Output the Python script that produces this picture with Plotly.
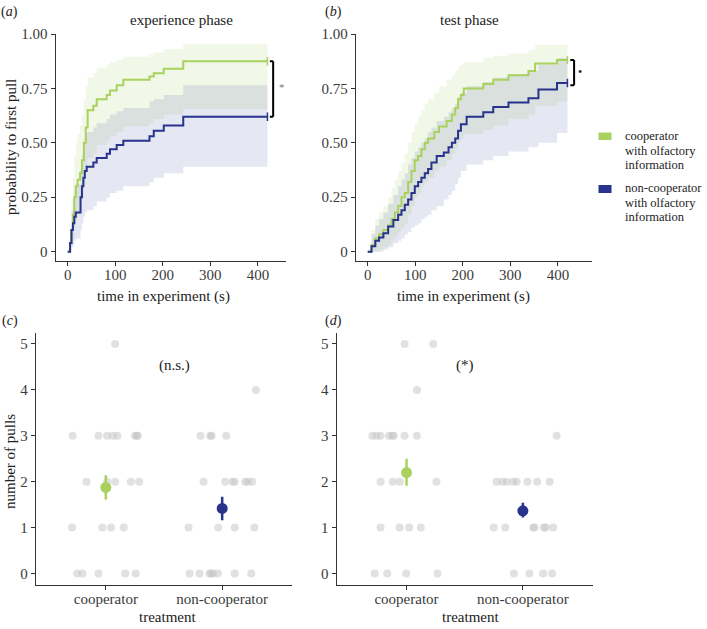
import plotly.graph_objects as go

# ---------------- data ----------------
# (a) experience phase - Kaplan-Meier style step curves
exp_coop_t = [0, 5, 8, 11, 14, 17, 21, 26, 30, 34, 38, 42, 54, 61, 82, 89, 103, 117, 172, 181, 202, 243, 420]
exp_coop_p = [0, 0.04, 0.10, 0.17, 0.25, 0.30, 0.33, 0.36, 0.42, 0.50, 0.57, 0.65, 0.67, 0.70, 0.72, 0.74, 0.765, 0.79, 0.805, 0.82, 0.84, 0.875, 0.875]
exp_coop_hi = [0, 0.12, 0.24, 0.34, 0.44, 0.50, 0.54, 0.58, 0.63, 0.70, 0.76, 0.80, 0.82, 0.845, 0.86, 0.87, 0.88, 0.895, 0.905, 0.915, 0.93, 0.955, 0.955]
exp_coop_lo = [0, 0, 0.02, 0.06, 0.11, 0.15, 0.17, 0.20, 0.25, 0.31, 0.37, 0.43, 0.45, 0.49, 0.51, 0.53, 0.55, 0.575, 0.59, 0.61, 0.63, 0.655, 0.655]

exp_non_t = [0, 5, 8, 11, 14, 17, 27, 30, 33, 36, 40, 54, 61, 82, 89, 103, 117, 172, 181, 202, 243, 420]
exp_non_p = [0, 0.04, 0.10, 0.13, 0.16, 0.18, 0.25, 0.30, 0.34, 0.37, 0.39, 0.41, 0.43, 0.45, 0.47, 0.49, 0.51, 0.53, 0.555, 0.58, 0.62, 0.62]
exp_non_hi = [0, 0.10, 0.19, 0.24, 0.28, 0.31, 0.38, 0.44, 0.48, 0.52, 0.55, 0.57, 0.59, 0.61, 0.63, 0.645, 0.66, 0.69, 0.70, 0.72, 0.765, 0.765]
exp_non_lo = [0, 0, 0.02, 0.03, 0.05, 0.06, 0.10, 0.13, 0.16, 0.18, 0.19, 0.21, 0.23, 0.25, 0.27, 0.28, 0.30, 0.32, 0.34, 0.36, 0.39, 0.39]

# (b) test phase
test_coop_t = [0, 8, 16, 24, 33, 43, 50, 57, 64, 71, 78, 85, 92, 99, 106, 113, 120, 127, 140, 150, 166, 177, 184, 190, 196, 202, 243, 264, 296, 338, 352, 398, 420]
test_coop_p = [0, 0.03, 0.06, 0.08, 0.10, 0.12, 0.15, 0.18, 0.21, 0.25, 0.27, 0.32, 0.37, 0.42, 0.44, 0.47, 0.50, 0.52, 0.55, 0.575, 0.60, 0.63, 0.66, 0.70, 0.72, 0.75, 0.77, 0.79, 0.81, 0.83, 0.865, 0.88, 0.88]
test_coop_hi = [0, 0.10, 0.15, 0.18, 0.21, 0.25, 0.29, 0.33, 0.37, 0.41, 0.45, 0.50, 0.55, 0.59, 0.62, 0.65, 0.68, 0.70, 0.73, 0.76, 0.79, 0.81, 0.83, 0.85, 0.86, 0.87, 0.89, 0.90, 0.91, 0.925, 0.95, 0.95, 0.95]
test_coop_lo = [0, 0, 0, 0.01, 0.02, 0.03, 0.05, 0.07, 0.09, 0.11, 0.13, 0.17, 0.21, 0.25, 0.27, 0.30, 0.32, 0.34, 0.37, 0.39, 0.42, 0.45, 0.47, 0.50, 0.52, 0.54, 0.56, 0.58, 0.61, 0.63, 0.67, 0.69, 0.69]

test_non_t = [0, 8, 16, 24, 33, 43, 54, 64, 71, 78, 85, 92, 99, 106, 113, 120, 127, 134, 145, 160, 170, 177, 184, 190, 196, 208, 243, 264, 296, 338, 359, 398, 420]
test_non_p = [0, 0.025, 0.05, 0.065, 0.085, 0.115, 0.145, 0.17, 0.19, 0.215, 0.24, 0.27, 0.30, 0.32, 0.34, 0.36, 0.38, 0.41, 0.44, 0.455, 0.48, 0.50, 0.52, 0.555, 0.585, 0.62, 0.64, 0.665, 0.685, 0.705, 0.745, 0.775, 0.775]
test_non_hi = [0, 0.08, 0.12, 0.15, 0.18, 0.22, 0.26, 0.30, 0.33, 0.36, 0.40, 0.43, 0.46, 0.48, 0.50, 0.52, 0.55, 0.57, 0.60, 0.62, 0.64, 0.66, 0.68, 0.71, 0.73, 0.76, 0.78, 0.80, 0.815, 0.83, 0.86, 0.89, 0.89]
test_non_lo = [0, 0, 0, 0, 0.01, 0.02, 0.04, 0.05, 0.06, 0.08, 0.09, 0.11, 0.12, 0.13, 0.15, 0.16, 0.17, 0.19, 0.21, 0.24, 0.26, 0.28, 0.31, 0.34, 0.37, 0.40, 0.42, 0.44, 0.46, 0.48, 0.50, 0.545, 0.545]

# (c) number of pulls, experience phase: individual values and their jitter
c_coop_y = [5, 3, 3, 3, 3, 3, 3, 3, 3, 2, 2, 2, 2, 2, 1, 1, 1, 1, 0, 0, 0, 0, 0]
c_coop_j = [0.08, -0.285, -0.063, 0.011, 0.06, 0.10, 0.25, 0.265, 0.275, -0.166, 0.011, 0.08, 0.215, 0.287, -0.29, -0.03, 0.045, 0.154, -0.246, -0.2, -0.063, 0.166, 0.257]
c_non_y = [4, 3, 3, 3, 3, 2, 2, 2, 2, 2, 2, 2, 1, 1, 1, 1, 0, 0, 0, 0, 0, 0, 0, 0]
c_non_j = [0.29, -0.186, -0.103, -0.09, 0.034, -0.16, 0.026, 0.09, 0.108, 0.197, 0.22, 0.257, -0.289, -0.034, 0.108, 0.277, -0.28, -0.195, -0.109, -0.095, -0.08, -0.037, 0.108, 0.25]
# (d) number of pulls, test phase
d_coop_y = [5, 5, 4, 3, 3, 3, 3, 3, 3, 3, 3, 2, 2, 2, 2, 1, 1, 1, 1, 0, 0, 0, 0]
d_coop_j = [-0.017, 0.23, 0.089, -0.294, -0.257, -0.223, -0.151, -0.123, -0.109, -0.017, 0.089, -0.223, -0.117, -0.057, 0.257, -0.223, -0.06, 0.023, 0.123, -0.274, -0.166, -0.003, 0.266]
d_non_y = [3, 2, 2, 2, 2, 2, 2, 2, 2, 1, 1, 1, 1, 1, 1, 1, 0, 0, 0, 0]
d_non_j = [0.29, -0.226, -0.177, -0.14, -0.083, -0.054, 0.04, 0.123, 0.231, -0.251, -0.151, 0.089, 0.10, 0.18, 0.197, 0.26, -0.077, 0.057, 0.174, 0.251]

treatments = ["cooperator", "non-cooperator"]
c_mean = [1.875, 1.417]
c_lo = [1.61, 1.16]
c_hi = [2.14, 1.67]
d_mean = [2.20, 1.365]
d_lo = [1.91, 1.22]
d_hi = [2.50, 1.54]

y_ticks_prob = [0, 0.25, 0.5, 0.75, 1.0]
y_ticks_prob_text = ["0", "0.25", "0.50", "0.75", "1.00"]
x_ticks_time = [0, 100, 200, 300, 400]
y_ticks_pulls = [0, 1, 2, 3, 4, 5]

# ---------------- style ----------------
GREEN = "#a9d15e"
NAVY = "#27338c"
GREEN_BAND = "rgba(169,209,94,0.15)"
NAVY_BAND = "rgba(45,55,150,0.12)"
DOT = "rgba(195,195,195,0.5)"
FONT = "Liberation Serif"
AX = "#333333"
W, H = 707, 629


def px(x):
    return x / W


def py(y):
    return 1 - y / H


fig = go.Figure()


def km(t, lo, hi, band_col, xa, ya):
    fig.add_trace(go.Scatter(x=t, y=lo, mode="lines", line=dict(width=0, shape="hv"),
                             hoverinfo="skip", showlegend=False, xaxis=xa, yaxis=ya))
    fig.add_trace(go.Scatter(x=t, y=hi, mode="lines", line=dict(width=0, shape="hv"),
                             fill="tonexty", fillcolor=band_col, hoverinfo="skip",
                             showlegend=False, xaxis=xa, yaxis=ya))


def km_line(t, p, line_col, xa, ya):
    fig.add_trace(go.Scatter(x=t, y=p, mode="lines", line=dict(width=2, color=line_col, shape="hv"),
                             showlegend=False, xaxis=xa, yaxis=ya))
    fig.add_trace(go.Scatter(x=[t[-1]], y=[p[-1]], mode="markers",
                             marker=dict(symbol="line-ns", size=6, line=dict(width=1.5, color=line_col)),
                             showlegend=False, xaxis=xa, yaxis=ya))


km(exp_coop_t, exp_coop_lo, exp_coop_hi, GREEN_BAND, "x", "y")
km(exp_non_t, exp_non_lo, exp_non_hi, NAVY_BAND, "x", "y")
km_line(exp_coop_t, exp_coop_p, GREEN, "x", "y")
km_line(exp_non_t, exp_non_p, NAVY, "x", "y")

km(test_coop_t, test_coop_lo, test_coop_hi, GREEN_BAND, "x2", "y2")
km(test_non_t, test_non_lo, test_non_hi, NAVY_BAND, "x2", "y2")
km_line(test_coop_t, test_coop_p, GREEN, "x2", "y2")
km_line(test_non_t, test_non_p, NAVY, "x2", "y2")


def dots(ys, js, cat, xa, ya):
    fig.add_trace(go.Scatter(x=[cat + j for j in js], y=ys, mode="markers",
                             marker=dict(size=8, color=DOT, line=dict(width=0)),
                             showlegend=False, xaxis=xa, yaxis=ya))


def means(m, lo, hi, xa, ya):
    for i, col in enumerate([GREEN, NAVY]):
        fig.add_trace(go.Scatter(x=[i + 1], y=[m[i]], mode="markers",
                                 marker=dict(size=11, color=col),
                                 error_y=dict(type="data", symmetric=False,
                                              array=[hi[i] - m[i]], arrayminus=[m[i] - lo[i]],
                                              color=col, thickness=2.5, width=0),
                                 showlegend=False, xaxis=xa, yaxis=ya))


dots(c_coop_y, c_coop_j, 1, "x3", "y3")
dots(c_non_y, c_non_j, 2, "x3", "y3")
means(c_mean, c_lo, c_hi, "x3", "y3")
dots(d_coop_y, d_coop_j, 1, "x4", "y4")
dots(d_non_y, d_non_j, 2, "x4", "y4")
means(d_mean, d_lo, d_hi, "x4", "y4")

axis_common = dict(showline=True, linecolor=AX, linewidth=1.3, ticks="outside", ticklen=4,
                   tickcolor=AX, tickwidth=1.3, showgrid=False, zeroline=False, automargin=False,
                   tickfont=dict(family=FONT, size=15, color="#3a3a3a"))
xaxis_extra = dict(ticklabelstandoff=-4)

fig.update_layout(
    template="none",
    width=W, height=H, margin=dict(l=0, r=0, t=0, b=0, pad=0, autoexpand=False),
    paper_bgcolor="white", plot_bgcolor="rgba(0,0,0,0)",
    font=dict(family=FONT, size=15, color="#222"),
    xaxis=dict(domain=[px(55.7), px(286)], range=[-25.2, 459], tickvals=x_ticks_time, anchor="y",
               **axis_common, **xaxis_extra),
    yaxis=dict(domain=[py(261), py(34)], range=[-0.043, 1.0], tickvals=y_ticks_prob,
               ticktext=y_ticks_prob_text, anchor="x", **axis_common),
    xaxis2=dict(domain=[px(356), px(591.7)], range=[-24.6, 471], tickvals=x_ticks_time, anchor="y2",
                **axis_common, **xaxis_extra),
    yaxis2=dict(domain=[py(261), py(34)], range=[-0.043, 1.0], tickvals=y_ticks_prob,
                ticktext=y_ticks_prob_text, anchor="x2", **axis_common),
    xaxis3=dict(domain=[px(36), px(292)], range=[0.4, 2.6], tickvals=[1, 2], ticktext=treatments,
                anchor="y3", **axis_common, **xaxis_extra),
    yaxis3=dict(domain=[py(585), py(332.5)], range=[-0.25, 5.25], tickvals=y_ticks_pulls, anchor="x3", **axis_common),
    xaxis4=dict(domain=[px(336.7), px(592.7)], range=[0.4, 2.6], tickvals=[1, 2], ticktext=treatments,
                anchor="y4", **axis_common, **xaxis_extra),
    yaxis4=dict(domain=[py(585), py(332.5)], range=[-0.25, 5.25], tickvals=y_ticks_pulls, anchor="x4", **axis_common),
)

shapes = []
# significance brackets
for xr, yr, xb, x0, y_lo, y_hi in [("x", "y", 432, 425, 0.62, 0.875), ("x2", "y2", 434, 426, 0.765, 0.88)]:
    shapes.append(dict(type="line", xref=xr, yref=yr, x0=xb, x1=xb, y0=y_lo, y1=y_hi, line=dict(color="black", width=2)))
    shapes.append(dict(type="line", xref=xr, yref=yr, x0=x0, x1=xb, y0=y_lo, y1=y_lo, line=dict(color="black", width=2)))
    shapes.append(dict(type="line", xref=xr, yref=yr, x0=x0, x1=xb, y0=y_hi, y1=y_hi, line=dict(color="black", width=2)))
# legend keys
shapes.append(dict(type="rect", xref="paper", yref="paper", x0=px(598.5), x1=px(611.5), y0=py(140), y1=py(132.5),
                   fillcolor=GREEN, line=dict(width=0)))
shapes.append(dict(type="rect", xref="paper", yref="paper", x0=px(598.5), x1=px(611.5), y0=py(193), y1=py(185),
                   fillcolor=NAVY, line=dict(width=0)))
fig.update_layout(shapes=shapes)

ann = []


def txt(text, x, y, size=15, angle=0, xanchor="center", color="#222"):
    ann.append(dict(text=text, x=px(x), y=py(y), xref="paper", yref="paper", showarrow=False,
                    xanchor=xanchor, yanchor="middle", textangle=angle, borderpad=0,
                    font=dict(family=FONT, size=size, color=color)))


txt("(<i>a</i>)", 9, 12, 14)
txt("(<i>b</i>)", 333, 12, 14)
txt("(<i>c</i>)", 10, 321, 14)
txt("(<i>d</i>)", 333, 321, 14)
txt("experience phase", 181, 20)
txt("test phase", 469, 20)
txt("probability to first pull", 11, 147, angle=-90)
txt("time in experiment (s)", 163, 296)
txt("time in experiment (s)", 463, 296)
txt("number of pulls", 10, 462, angle=-90)
txt("treatment", 167, 617)
txt("treatment", 470, 617)
for i, line in enumerate(["cooperator", "with olfactory", "information"]):
    txt(line, 624, 136 + 14.7 * i, 12.5, xanchor="left")
for i, line in enumerate(["non-cooperator", "with olfactory", "information"]):
    txt(line, 624, 188 + 14.7 * i, 12.5, xanchor="left")

# significance markers
ann.append(dict(text="*", x=450, y=0.755, xref="x", yref="y", showarrow=False,
                font=dict(family=FONT, size=11, color="#777")))
ann.append(dict(text="•", x=447, y=0.824, xref="x2", yref="y2", showarrow=False,
                font=dict(family=FONT, size=12, color="#222")))
ann.append(dict(text="(n.s.)", x=1.59, y=4.54, xref="x3", yref="y3", showarrow=False,
                font=dict(family=FONT, size=15, color="#222")))
ann.append(dict(text="(*)", x=1.5, y=4.54, xref="x4", yref="y4", showarrow=False,
                font=dict(family=FONT, size=15, color="#222")))
fig.update_layout(annotations=ann)

fig.write_html("out.html", config={"displayModeBar": False},
               post_script="document.body.style.margin='0';document.body.style.padding='0';"
                           "document.documentElement.style.overflow='hidden';")
